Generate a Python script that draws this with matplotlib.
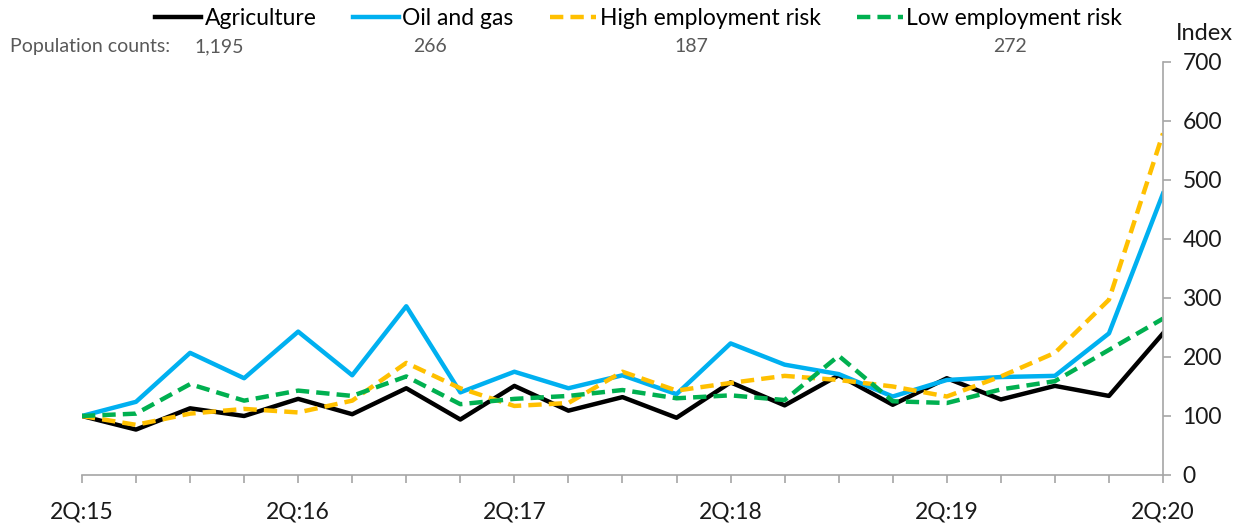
import matplotlib
matplotlib.use("Agg")
import numpy as np
from matplotlib import pyplot as plt

plt.rcParams['font.family'] = ['Lato', 'DejaVu Sans']

# quarterly index values, 2Q:15 = 100
quarters = ["2Q:15", "3Q:15", "4Q:15", "1Q:16", "2Q:16", "3Q:16", "4Q:16", "1Q:17",
            "2Q:17", "3Q:17", "4Q:17", "1Q:18", "2Q:18", "3Q:18", "4Q:18", "1Q:19",
            "2Q:19", "3Q:19", "4Q:19", "1Q:20", "2Q:20"]
agriculture = [100, 77, 113, 100, 129, 103, 147, 94, 151, 109, 132, 97, 157, 118, 169,
               119, 164, 128, 151, 134, 240]
oil_gas = [100, 124, 207, 164, 243, 169, 286, 140, 175, 147, 169, 137, 223, 187, 171,
           133, 161, 166, 168, 240, 477]
high_risk = [100, 85, 104, 112, 106, 126, 190, 147, 117, 122, 175, 143, 156, 168, 161,
             150, 133, 167, 207, 297, 579]
low_risk = [100, 104, 154, 126, 143, 134, 167, 120, 129, 134, 144, 130, 135, 127, 202,
            125, 122, 145, 159, 212, 265]
series_names = ["Agriculture", "Oil and gas", "High employment risk", "Low employment risk"]
pop_counts = ["1,195", "266", "187", "272"]

x = np.arange(len(quarters))

fig = plt.figure(figsize=(12.55, 5.27), dpi=100)
ax = fig.add_axes([0.0653, 0.0987, 0.8614, 0.7837])

lw = 3.2
ax.plot(x, agriculture, color="black", lw=lw, label=series_names[0])
ax.plot(x, oil_gas, color="#00B0F0", lw=lw, label=series_names[1])
ax.plot(x, high_risk, color="#FFC000", lw=lw, ls=(0, (3, 1.6)), label=series_names[2])
ax.plot(x, low_risk, color="#00B050", lw=lw, ls=(0, (3, 1.6)), label=series_names[3])

ax.set_xlim(0, 20)
ax.set_ylim(0, 700)
ax.yaxis.tick_right()
ax.set_yticks(range(0, 701, 100))
ax.set_xticks(x)
ax.set_xticklabels([q if i % 4 == 0 else "" for i, q in enumerate(quarters)])
for s in ["top", "left"]:
    ax.spines[s].set_visible(False)
for s in ["right", "bottom"]:
    ax.spines[s].set_color("#A6A6A6")
    ax.spines[s].set_linewidth(1.2)
ax.tick_params(axis="y", colors="#A6A6A6", labelcolor="#1a1a1a", labelsize=16.5,
               length=6, width=1.2, pad=8)
ax.tick_params(axis="x", colors="#A6A6A6", labelcolor="#1a1a1a", labelsize=16.5,
               length=6, width=1.2, pad=13)

fig.text(0.960, 0.937, "Index", fontsize=17, ha="center", va="center", color="#1a1a1a")

fig.legend(loc="center", bbox_to_anchor=(0.509, 0.964), ncol=4, frameon=False,
           fontsize=16.5, handlelength=2.0, handletextpad=0.15, columnspacing=1.6,
           borderaxespad=0)

fig.text(0.008, 0.912, "Population counts:", fontsize=14, color="#595959", va="center")
for xp, c in zip([0.175, 0.343, 0.551, 0.805], pop_counts):
    fig.text(xp, 0.912, c, fontsize=14, color="#595959", va="center", ha="center")

fig.savefig("out.png", dpi=100)
